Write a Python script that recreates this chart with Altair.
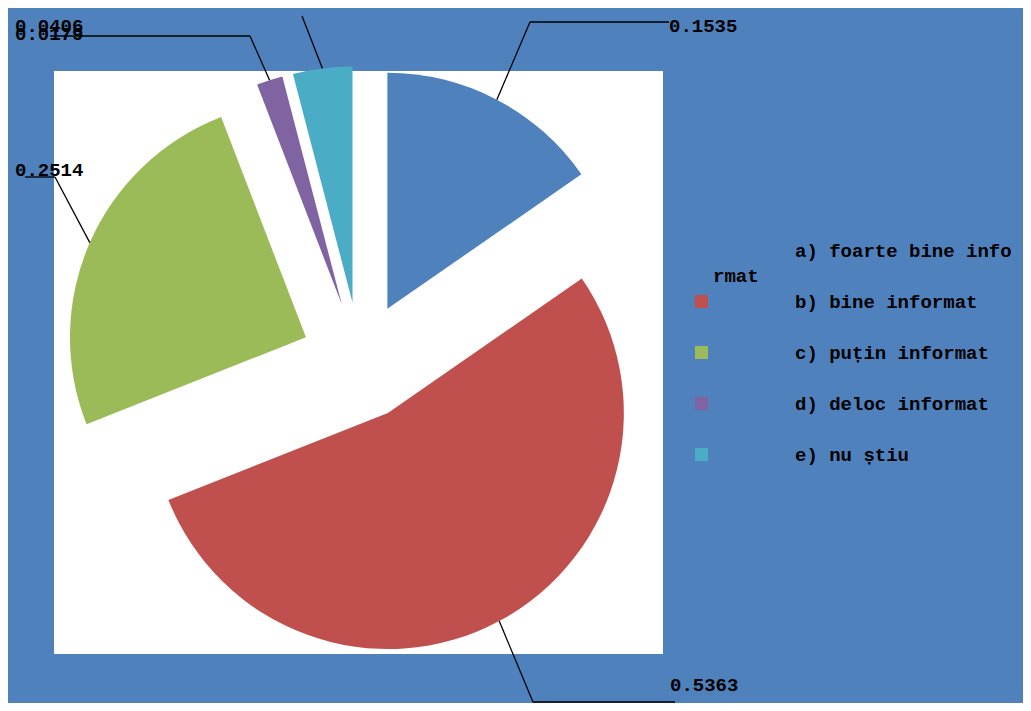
import altair as alt
import pandas as pd

# ---- data ----
CATEGORIES = ["a) foarte bine informat", "b) bine informat", "c) puțin informat",
              "d) deloc informat", "e) nu știu"]
VALUES = [0.1535, 0.5363, 0.2514, 0.0179, 0.0406]
LABELS = ["0.1535", "0.5363", "0.2514", "0.0179", "0.0406"]
COLORS = ["#4F81BD", "#C0504D", "#9BBB59", "#8064A2", "#4BACC6"]

# ---- layout (pixels) ----
W, H = 1015, 695
CX, CY, R, EXPLODE = 352, 353, 236, 59
LABEL_X = [661, 662, 7, 7, 7]
LABEL_Y = [18, 677, 162, 26, 18]
ELBOW_X = [522, 525, 47, 242, 294]
ELBOW_Y = [14, 694, 169, 28, 8]
END_X = [661, 667, 17, 42, 294]
END_Y = [14, 694, 169, 28, 8]
FONT = "Liberation Mono"
BG = "#4F81BD"

df = pd.DataFrame({
    "cat": CATEGORIES, "value": VALUES, "label": LABELS, "idx": list(range(len(VALUES))),
    "lx": LABEL_X, "ly": LABEL_Y, "ex": ELBOW_X, "ey": ELBOW_Y, "fx": END_X, "fy": END_Y,
})

base = (
    alt.Chart(df)
    .transform_window(cum="sum(value)", sort=[alt.SortField("idx")], frame=[None, 0])
    .transform_joinaggregate(total="sum(value)")
    .transform_calculate(
        t1="datum.cum / datum.total * 2 * PI",
        t0="(datum.cum - datum.value) / datum.total * 2 * PI",
    )
    .transform_calculate(mid="(datum.t0 + datum.t1) / 2")
    .transform_calculate(
        cx=f"{CX} + {EXPLODE} * sin(datum.mid)",
        cy=f"{CY} - {EXPLODE} * cos(datum.mid)",
    )
    .transform_calculate(
        sx=f"datum.cx + {R} * sin(datum.mid)",
        sy=f"datum.cy - {R} * cos(datum.mid)",
    )
)

plot_bg = alt.Chart(pd.DataFrame({"k": [0]})).mark_rect(color="white").encode(
    x=alt.value(46), x2=alt.value(655), y=alt.value(63), y2=alt.value(646)
)

arcs = base.mark_arc(radius=R).encode(
    theta=alt.Theta("t0:Q", scale=None, stack=False),
    theta2="t1:Q",
    x=alt.X("cx:Q", scale=None, axis=None),
    y=alt.Y("cy:Q", scale=None, axis=None),
    color=alt.Color(
        "cat:N",
        scale=alt.Scale(domain=CATEGORIES, range=COLORS),
        legend=alt.Legend(
            title=None, orient="none", legendX=684, legendY=233,
            symbolType="square", symbolSize=169, symbolStrokeWidth=0,
            labelOffset=84, rowPadding=31, padding=0,
            labelFont=FONT, labelFontSize=19, labelFontWeight="bold",
            labelColor="black", labelLimit=500,
            labelExpr="datum.label == 'a) foarte bine informat' ? 'a) foarte bine info' : datum.label",
        ),
    ),
    order=alt.Order("idx:Q"),
)

lead1 = base.mark_rule(color="black", strokeWidth=1.3).encode(
    x=alt.X("sx:Q", scale=None, axis=None), y=alt.Y("sy:Q", scale=None, axis=None),
    x2="ex:Q", y2="ey:Q",
)
lead2 = base.mark_rule(color="black", strokeWidth=1.3).encode(
    x=alt.X("ex:Q", scale=None, axis=None), y=alt.Y("ey:Q", scale=None, axis=None),
    x2="fx:Q", y2="fy:Q",
)

labels = base.mark_text(
    align="left", baseline="middle", font=FONT, fontSize=19, fontWeight="bold", color="black"
).encode(
    x=alt.X("lx:Q", scale=None, axis=None), y=alt.Y("ly:Q", scale=None, axis=None),
    text="label:N",
)

wrap = alt.Chart(pd.DataFrame({"t": ["rmat"]})).mark_text(
    align="left", baseline="middle", font=FONT, fontSize=19, fontWeight="bold", color="black"
).encode(x=alt.value(705), y=alt.value(268), text="t:N")

chart = (
    alt.layer(plot_bg, arcs, lead1, lead2, labels, wrap)
    .properties(width=W, height=H, autosize=alt.AutoSizeParams(type="none"), padding=0, background=BG)
    .configure_view(strokeWidth=0)
)

chart.save("out.html", embed_options={"renderer": "svg", "actions": False})
